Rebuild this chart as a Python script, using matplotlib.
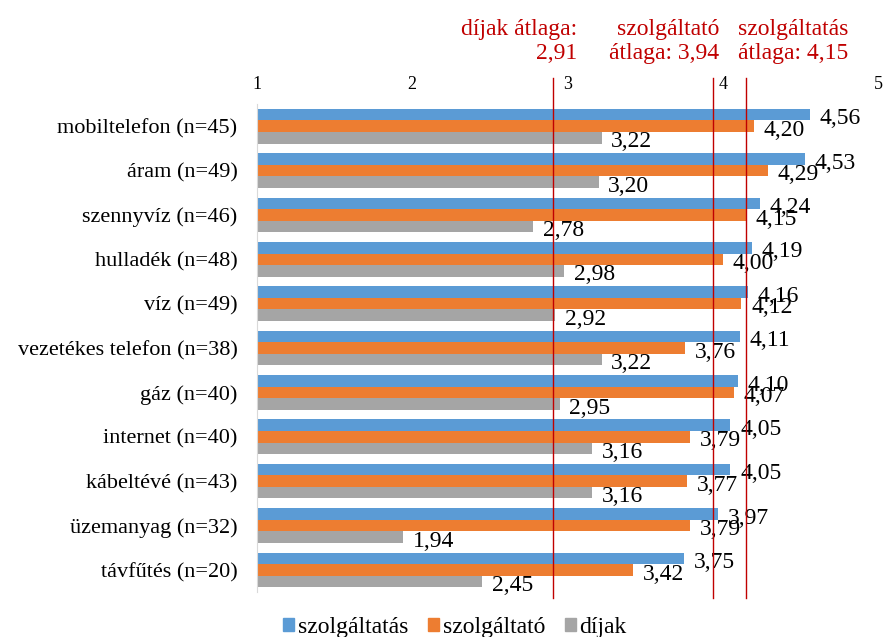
import matplotlib
matplotlib.use("Agg")
import matplotlib.pyplot as plt
from matplotlib.patches import Patch

plt.rcParams['font.family'] = ['Liberation Serif', 'DejaVu Serif']

categories = ['mobiltelefon (n=45)', 'áram (n=49)', 'szennyvíz (n=46)', 'hulladék (n=48)',
              'víz (n=49)', 'vezetékes telefon (n=38)', 'gáz (n=40)', 'internet (n=40)',
              'kábeltévé (n=43)', 'üzemanyag (n=32)', 'távfűtés (n=20)']
szolgaltatas = [4.56, 4.53, 4.24, 4.19, 4.16, 4.11, 4.10, 4.05, 4.05, 3.97, 3.75]
szolgaltato = [4.20, 4.29, 4.15, 4.00, 4.12, 3.76, 4.07, 3.79, 3.77, 3.79, 3.42]
dijak = [3.22, 3.20, 2.78, 2.98, 2.92, 3.22, 2.95, 3.16, 3.16, 1.94, 2.45]
series_names = ['szolgáltatás', 'szolgáltató', 'díjak']
colors = ['#5B9BD5', '#ED7D31', '#A5A5A5']
averages = [2.91, 3.94, 4.15]
avg_texts = ['díjak átlaga:\n2,91', 'szolgáltató\nátlaga: 3,94', 'szolgáltatás\nátlaga: 4,15']

fig = plt.figure(figsize=(8.85, 6.37), dpi=100)
ax = fig.add_axes([0.2904, 0.0706, 0.7016, 0.7661])

h = 0.26
series = [szolgaltatas, szolgaltato, dijak]
for i, (vals, col) in enumerate(zip(series, colors)):
    ys = [k + (i - 1) * h for k in range(len(categories))]
    ax.barh(ys, vals, height=h, color=col, left=0, zorder=2)
    for y, v in zip(ys, vals):
        ax.annotate(f"{v:.2f}".replace('.', ','), (v, y), xytext=(7, -3),
                    textcoords='offset points', va='center', ha='left', fontsize=17)

ax.set_xlim(1, 5)
ax.set_ylim(len(categories) - 0.5, -0.5)
ax.set_yticks(range(len(categories)))
ax.set_yticklabels(categories, fontsize=16)
ax.set_xticks([1, 2, 3, 4, 5])
ax.set_xticklabels(['1', '2', '3', '4', '5'], fontsize=13)
ax.xaxis.tick_top()
ax.tick_params(axis='both', length=0)
ax.tick_params(axis='x', pad=8)
ax.tick_params(axis='y', pad=14)
for s in ['top', 'right', 'bottom']:
    ax.spines[s].set_visible(False)
ax.spines['left'].set_color('#D9D9D9')

for a in averages:
    ax.axvline(a, ymin=-0.012, ymax=1.053, color='#C00000', lw=1, clip_on=False, zorder=3)

trans = ax.get_xaxis_transform()
ax.text(averages[0] + 0.15, 1.128, avg_texts[0], transform=trans, ha='right', va='center',
        color='#C00000', fontsize=17, linespacing=1.15, multialignment='right')
ax.text(averages[1] + 0.04, 1.128, avg_texts[1], transform=trans, ha='right', va='center',
        color='#C00000', fontsize=17, linespacing=1.15, multialignment='right')
ax.text(averages[2] - 0.05, 1.128, avg_texts[2], transform=trans, ha='left', va='center',
        color='#C00000', fontsize=17, linespacing=1.15, multialignment='left')

handles = [Patch(color=c, label=n) for c, n in zip(colors, series_names)]
fig.legend(handles=handles, loc='center', bbox_to_anchor=(0.514, 0.0145), ncol=3,
           frameon=False, fontsize=17, handlelength=0.46, handleheight=0.46,
           handletextpad=0.17, columnspacing=0.83, borderpad=0)

fig.savefig('out.png', dpi=100)
